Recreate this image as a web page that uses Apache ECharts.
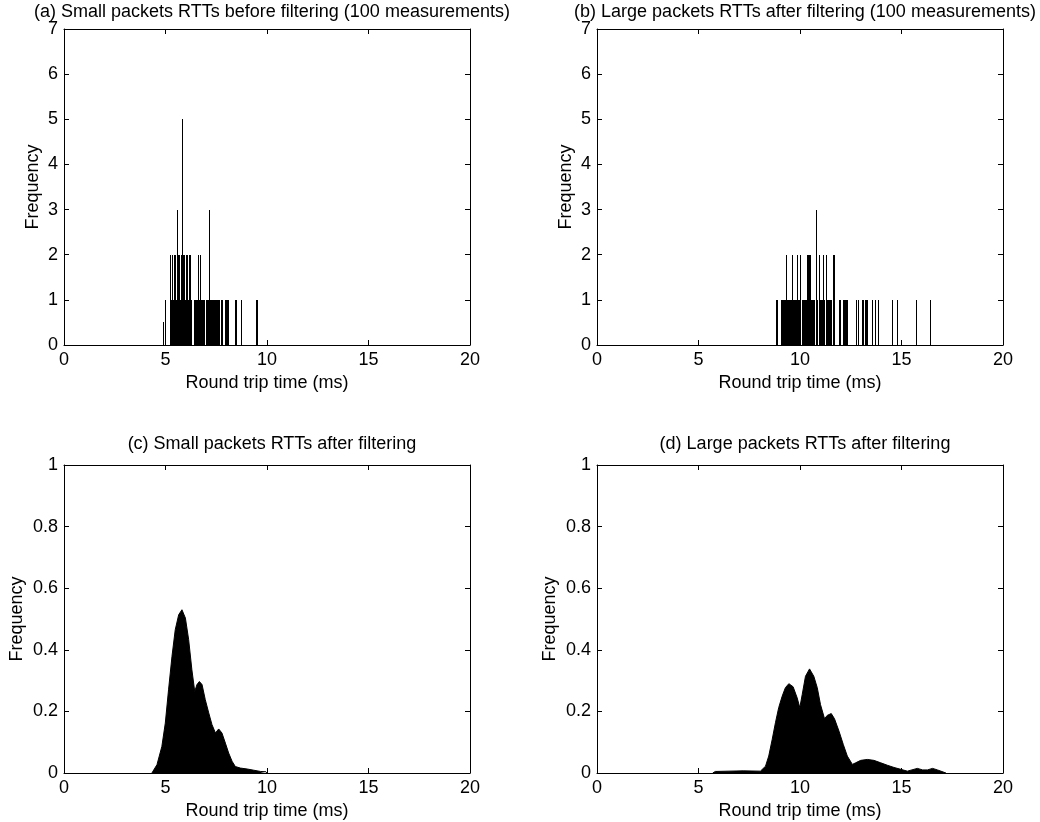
<!DOCTYPE html>
<html>
<head>
<meta charset="utf-8">
<script src="https://cdn.jsdelivr.net/npm/echarts@6/dist/echarts.min.js"></script>
<style>
  html, body { margin: 0; padding: 0; background: #fff; }
  #chart { width: 1040px; height: 822px; }
</style>
</head>
<body>
<div id="chart"></div>
<script>
// Histogram bin width (ms)
const BIN = 0.05;

// (a) small packets before filtering: bin start (ms) and count
const binStartA = [4.90, 4.97, 5.20, 5.25, 5.30, 5.35, 5.40, 5.45, 5.50, 5.55, 5.60, 5.65, 5.70, 5.75, 5.80, 5.85, 5.90, 5.95, 6.00, 6.05, 6.10, 6.15, 6.20, 6.25,
  6.40, 6.45, 6.50, 6.55, 6.60, 6.65, 6.70, 6.75, 6.80, 6.85, 6.90, 7.00, 7.05, 7.10, 7.15, 7.20, 7.25, 7.30, 7.35, 7.40, 7.45, 7.50, 7.55, 7.60, 7.65,
  7.75, 7.80, 7.95, 8.00, 8.05, 8.10, 8.40, 8.48, 8.72, 9.45, 9.50];
const countA = [0.5, 1, 2, 1, 2, 1, 2, 2, 1, 3, 2, 2, 1, 2, 5, 2, 2, 1, 2, 2, 1, 2, 2, 1,
  1, 1, 1, 1, 2, 1, 2, 1, 1, 1, 1, 1, 1, 1, 3, 1, 1, 1, 1, 1, 1, 1, 1, 1, 1,
  1, 1, 1, 1, 1, 1, 1, 1, 1, 1, 1];

// (b) large packets after filtering: bin start (ms) and count
const binStartB = [8.80, 8.85, 9.05, 9.10, 9.15, 9.20, 9.25, 9.30, 9.35, 9.40, 9.45, 9.50, 9.55, 9.60, 9.65, 9.70, 9.75, 9.80, 9.85, 9.90, 9.95, 10.00,
  10.10, 10.15, 10.20, 10.25, 10.30, 10.35, 10.40, 10.45, 10.50, 10.55, 10.60, 10.65, 10.70, 10.80, 10.85, 10.95, 11.00, 11.05, 11.10, 11.15, 11.20,
  11.30, 11.35, 11.40, 11.45, 11.50, 11.55, 11.65, 11.90, 11.98, 12.10, 12.15, 12.20, 12.25, 12.30, 12.75, 12.85, 13.05, 13.12, 13.18, 13.25, 13.30,
  13.55, 13.68, 13.83, 14.55, 14.78, 15.73, 16.42];
const countB = [1, 1, 1, 1, 1, 1, 1, 2, 1, 1, 1, 1, 1, 2, 1, 1, 1, 1, 2, 1, 1, 2,
  1, 1, 1, 1, 1, 2, 2, 2, 2, 1, 1, 1, 1, 3, 1, 2, 1, 1, 1, 2, 1,
  2, 1, 1, 1, 1, 1, 2, 1, 1, 1, 1, 1, 1, 1, 1, 1, 1, 1, 1, 1, 1,
  1, 1, 1, 1, 1, 1, 1];

// (c) small packets after filtering: RTT (ms) and relative frequency
const rttC = [4.33, 4.58, 4.82, 4.99, 5.15, 5.32, 5.48, 5.65, 5.81, 5.98, 6.14, 6.30, 6.44, 6.55, 6.67, 6.80, 6.96, 7.13, 7.29, 7.46, 7.62, 7.78, 7.95, 8.11, 8.28, 8.44, 8.69, 9.02, 9.35, 9.68, 9.95, 10.0];
const freqC = [0, 0.027, 0.086, 0.162, 0.27, 0.379, 0.465, 0.514, 0.53, 0.503, 0.433, 0.335, 0.265, 0.287, 0.297, 0.287, 0.238, 0.195, 0.157, 0.13, 0.143, 0.13, 0.097, 0.065, 0.038, 0.021, 0.016, 0.013, 0.009, 0.005, 0.004, 0];

// (d) large packets after filtering: RTT (ms) and relative frequency
const rttD = [5.70, 5.83, 6.50, 7.20, 8.05, 8.30, 8.46, 8.63, 8.79, 8.95, 9.12, 9.28, 9.45, 9.66, 9.86, 9.99, 10.11, 10.27, 10.47, 10.68, 10.85, 11.01, 11.21, 11.34, 11.54, 11.70, 11.92, 12.13, 12.33, 12.58, 12.74, 12.99, 13.32, 13.64, 13.98, 14.31, 14.63, 14.96, 15.29, 15.78, 16.04, 16.28, 16.53, 16.77, 17.19];
const freqD = [0, 0.005, 0.006, 0.007, 0.006, 0.022, 0.055, 0.109, 0.163, 0.212, 0.249, 0.277, 0.29, 0.28, 0.244, 0.212, 0.255, 0.314, 0.338, 0.314, 0.277, 0.222, 0.176, 0.187, 0.193, 0.176, 0.136, 0.093, 0.055, 0.028, 0.033, 0.041, 0.044, 0.041, 0.033, 0.025, 0.018, 0.012, 0.006, 0.015, 0.010, 0.010, 0.015, 0.010, 0];

// Axis ticks
const xTicks = { min: 0, max: 20, interval: 5 };
const yTicksTop = { min: 0, max: 7, interval: 1 };
const yTicksBottom = { min: 0, max: 1, interval: 0.2 };

const titles = [
  '(a) Small packets RTTs before filtering (100 measurements)',
  '(b) Large packets RTTs after filtering (100 measurements)',
  '(c) Small packets RTTs after filtering',
  '(d) Large packets RTTs after filtering'
];
const xName = 'Round trip time (ms)';
const yName = 'Frequency';

const FONT = '"Liberation Sans", Arial, sans-serif';
const grids = [
  { left: 64, top: 29, width: 406, height: 316 },
  { left: 597, top: 29, width: 406, height: 316 },
  { left: 64, top: 465, width: 406, height: 308 },
  { left: 597, top: 465, width: 406, height: 308 }
];

const axisLine = { show: true, onZero: false, lineStyle: { color: '#000', width: 1 } };
const tick = { show: true, inside: true, length: 5, lineStyle: { color: '#000' } };
const label = { color: '#000', fontSize: 18, fontFamily: FONT };

const xAxes = [], yAxes = [];
grids.forEach((g, i) => {
  const yt = i < 2 ? yTicksTop : yTicksBottom;
  xAxes.push({
    type: 'value', gridIndex: i, position: 'bottom', min: xTicks.min, max: xTicks.max, interval: xTicks.interval,
    axisLine, axisTick: tick, splitLine: { show: false },
    axisLabel: Object.assign({ margin: 6 }, label),
    name: xName, nameLocation: 'middle', nameGap: 29,
    nameTextStyle: { color: '#000', fontSize: 18, fontFamily: FONT }
  });
  xAxes.push({
    type: 'value', gridIndex: i, position: 'top', min: xTicks.min, max: xTicks.max, interval: xTicks.interval,
    axisLine, axisTick: tick, splitLine: { show: false }, axisLabel: { show: false }
  });
  yAxes.push({
    type: 'value', gridIndex: i, position: 'left', min: yt.min, max: yt.max, interval: yt.interval,
    axisLine, axisTick: tick, splitLine: { show: false },
    axisLabel: Object.assign({ margin: 6 }, label),
    name: yName, nameLocation: 'middle', nameGap: i < 2 ? 22 : 38,
    nameTextStyle: { color: '#000', fontSize: 18, fontFamily: FONT }
  });
  yAxes.push({
    type: 'value', gridIndex: i, position: 'right', min: yt.min, max: yt.max, interval: yt.interval,
    axisLine, axisTick: tick, splitLine: { show: false }, axisLabel: { show: false }
  });
});

// Each bin is a rectangle snapped to whole pixels so neighbouring bins merge into solid blocks
function histItem(params, api) {
  const x0 = api.value(0), c = api.value(1);
  const p0 = api.coord([x0, 0]);
  const p1 = api.coord([x0 + BIN, c]);
  const left = Math.round(p0[0]);
  const right = Math.max(Math.round(p1[0]), left + 1);
  return {
    type: 'rect',
    shape: { x: left, y: Math.round(p1[1]), width: right - left, height: Math.round(p0[1]) - Math.round(p1[1]) },
    style: { fill: '#000' }
  };
}

const zip = (a, b) => a.map((v, i) => [v, b[i]]);

const option = {
  backgroundColor: '#fff',
  animation: false,
  title: titles.map((t, i) => ({
    text: t,
    left: grids[i].left + grids[i].width / 2,
    top: i < 2 ? -2 : 430,
    textAlign: 'center',
    textStyle: { color: '#000', fontSize: 18, fontWeight: 'normal', fontFamily: FONT }
  })),
  grid: grids,
  xAxis: xAxes,
  yAxis: yAxes,
  series: [
    { type: 'custom', xAxisIndex: 0, yAxisIndex: 0, renderItem: histItem, data: zip(binStartA, countA) },
    { type: 'custom', xAxisIndex: 2, yAxisIndex: 2, renderItem: histItem, data: zip(binStartB, countB) },
    {
      type: 'line', xAxisIndex: 4, yAxisIndex: 4, data: zip(rttC, freqC), symbol: 'none',
      lineStyle: { color: '#000', width: 1 }, areaStyle: { color: '#000', opacity: 1 }
    },
    {
      type: 'line', xAxisIndex: 6, yAxisIndex: 6, data: zip(rttD, freqD), symbol: 'none',
      lineStyle: { color: '#000', width: 1 }, areaStyle: { color: '#000', opacity: 1 }
    }
  ]
};

echarts.init(document.getElementById('chart'), null, { renderer: 'canvas' }).setOption(option);
</script>
</body>
</html>
